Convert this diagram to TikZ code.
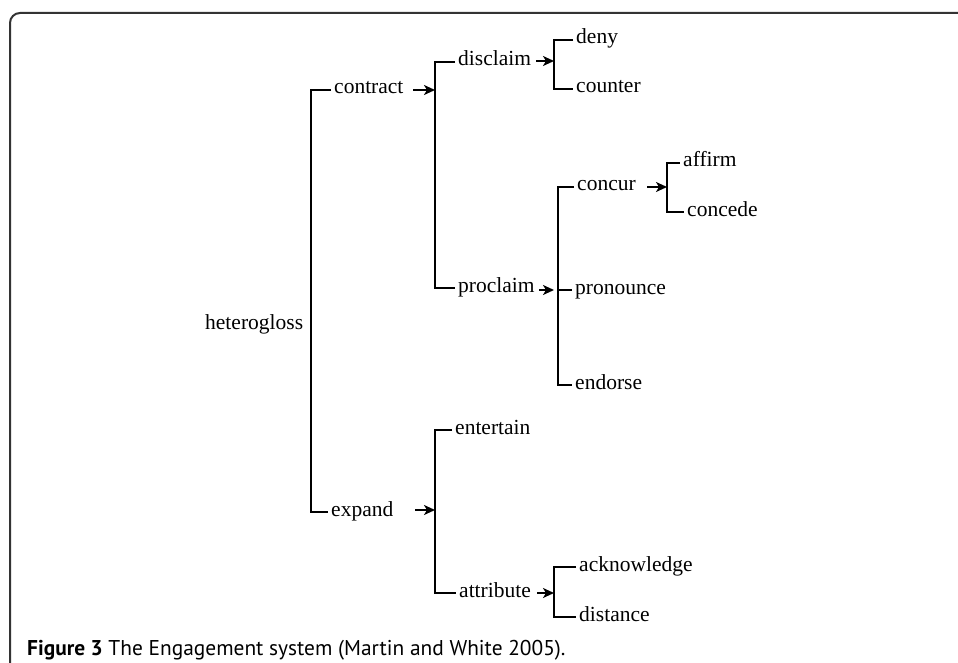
\documentclass[tikz,border=0pt]{standalone}
\usepackage{fontspec}
\setmainfont{Liberation Serif}
\newfontfamily\capfont{PT Sans}
\usetikzlibrary{arrows.meta}

\begin{document}
\begin{tikzpicture}[x=1pt,y=-1pt,>={Stealth[length=11pt,width=10pt,inset=3pt]},
    term/.style={anchor=west,inner xsep=3pt,inner ysep=0pt,text height=14pt,text depth=6pt,
      font=\fontsize{21.5}{24}\selectfont},
    br/.style={line width=1.8pt},
    arr/.style={->,line width=1.8pt}]
    \useasboundingbox (0,0) rectangle (958,663);
    % ---------- frame ----------
    \draw[line width=2pt,black!80,rounded corners=10pt] (10,700) -- (10,13) -- (1000,13);
    % ---------- terms ----------
    \node[term] (het)  at (202,325) {heterogloss};
    \node[term] (con)  at (331,90)  {contract};
    \node[term] (exp)  at (328,512) {expand};
    \node[term] (dis)  at (455,62)  {disclaim};
    \node[term] (pro)  at (455,288) {proclaim};
    \node[term] (ent)  at (452,430) {entertain};
    \node[term] (att)  at (456,593) {attribute};
    \node[term] (deny) at (573,40)  {deny};
    \node[term] (cou)  at (573,89)  {counter};
    \node[term] (conc) at (574,187) {concur};
    \node[term] (pron) at (572,290) {pronounce};
    \node[term] (endo) at (572,385) {endorse};
    \node[term] (aff)  at (680,163) {affirm};
    \node[term] (cnd)  at (684,212) {concede};
    \node[term] (ack)  at (576,567) {acknowledge};
    \node[term] (dist) at (576,617) {distance};
    % ---------- bracket joints ----------
    \coordinate (jHet) at (311,325);
    \coordinate (jCon) at (435,90);
    \coordinate (jDis) at (554,61);
    \coordinate (jPro) at (558,290);
    \coordinate (jConc) at (667,187);
    \coordinate (jExp) at (435,510);
    \coordinate (jAtt) at (554,593);
    % ---------- brackets ----------
    \draw[br] (con.west) -- (con.west -| jHet) -- (exp.west -| jHet) -- (exp.west);
    \draw[br] (dis.west) -- (dis.west -| jCon) -- (pro.west -| jCon) -- (pro.west);
    \draw[br] (deny.west) -- (deny.west -| jDis) -- (cou.west -| jDis) -- (cou.west);
    \draw[br] (conc.west) -- (conc.west -| jPro) -- (endo.west -| jPro) -- (endo.west);
    \draw[br] (jPro) -- (pron.west);
    \draw[br] (aff.west) -- (aff.west -| jConc) -- (cnd.west -| jConc) -- (cnd.west);
    \draw[br] (ent.west) -- (ent.west -| jExp) -- (att.west -| jExp) -- (att.west);
    \draw[br] (ack.west) -- (ack.west -| jAtt) -- (dist.west -| jAtt) -- (dist.west);
    % ---------- entry arrows ----------
    \draw[arr] ([xshift=-22pt]jCon) -- (jCon);
    \draw[arr] ([xshift=-18pt]jDis) -- (jDis);
    \draw[arr] ([xshift=-19pt]jPro) -- ([xshift=-4pt]jPro);
    \draw[arr] ([xshift=-20pt]jConc) -- (jConc);
    \draw[arr] ([xshift=-20pt]jExp) -- (jExp);
    \draw[arr] ([xshift=-17pt]jAtt) -- (jAtt);
    % ---------- caption ----------
    \node[anchor=base west,inner sep=0pt,font=\capfont\fontsize{21.4}{24}\selectfont] (cap) at (27,655)
      {\textbf{Figure 3} The Engagement system (Martin and White 2005).};
\end{tikzpicture}
\end{document}
